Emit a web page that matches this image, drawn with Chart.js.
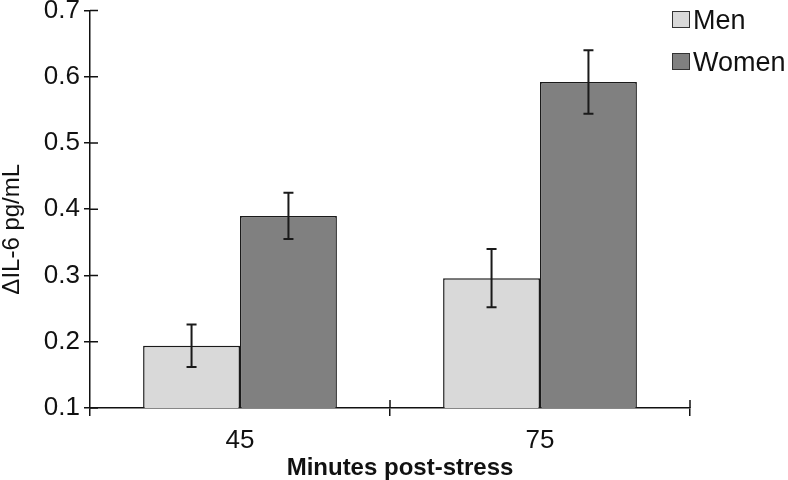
<!DOCTYPE html>
<html><head><meta charset="utf-8">
<script src="https://cdn.jsdelivr.net/npm/chart.js@4.4.1/dist/chart.umd.min.js"></script>
<style>
html,body{margin:0;padding:0;background:#fff;}
#wrap{position:relative;width:788px;height:480px;}
#legend{position:absolute;left:0;top:0;font-family:"Liberation Sans",Arial,sans-serif;font-size:27px;color:#111;}
.box{position:absolute;width:18px;height:17px;border:1px solid #333;box-sizing:border-box;}
.lbl{position:absolute;line-height:27px;white-space:nowrap;}
</style></head>
<body><div id="wrap"><canvas id="c" width="788" height="480"></canvas><div id="legend"></div></div>
<script>
const categories = ["45", "75"];
const seriesNames = ["Men", "Women"];
const menValues = [0.194, 0.296];
const womenValues = [0.390, 0.592];
const menErrors = [0.032, 0.044];
const womenErrors = [0.035, 0.048];
const seriesColors = ["#d9d9d9", "#808080"];
const yMin = 0.1, yMax = 0.7, yStep = 0.1;
const yTitle = "ΔIL-6 pg/mL";
const xTitle = "Minutes post-stress";

const FONT = '"Liberation Sans", Arial, sans-serif';
const INK = '#111';

const errorBars = {
  id: 'errorBars',
  afterDatasetsDraw(chart) {
    const ctx = chart.ctx, y = chart.scales.y;
    chart.data.datasets.forEach((ds, di) => {
      const meta = chart.getDatasetMeta(di);
      meta.data.forEach((bar, i) => {
        const v = ds.data[i], e = ds.errors[i];
        const yt = y.getPixelForValue(v + e), yb = y.getPixelForValue(v - e);
        ctx.save();
        ctx.strokeStyle = '#1a1a1a'; ctx.lineWidth = 2;
        ctx.beginPath();
        ctx.moveTo(bar.x, yt); ctx.lineTo(bar.x, yb);
        ctx.moveTo(bar.x - 5, yt); ctx.lineTo(bar.x + 5, yt);
        ctx.moveTo(bar.x - 5, yb); ctx.lineTo(bar.x + 5, yb);
        ctx.stroke();
        ctx.restore();
      });
    });
  }
};

const innerTicksAndTitles = {
  id: 'innerTicksAndTitles',
  afterDraw(chart) {
    const ctx = chart.ctx, x = chart.scales.x, y = chart.scales.y, ca = chart.chartArea;
    ctx.save();
    ctx.strokeStyle = INK; ctx.lineWidth = 1.5;
    ctx.beginPath();
    y.ticks.forEach(t => {
      const py = y.getPixelForValue(t.value);
      ctx.moveTo(y.right, py); ctx.lineTo(y.right + 8, py);
    });
    const n = categories.length;
    for (let i = 1; i <= n; i++) {
      const px = x.left + i * (x.width / n);
      ctx.moveTo(px, x.top - 8); ctx.lineTo(px, x.top);
    }
    ctx.stroke();
    // axis titles
    ctx.fillStyle = INK;
    ctx.textAlign = 'center'; ctx.textBaseline = 'middle';
    ctx.font = 'bold 24px ' + FONT;
    ctx.fillText(xTitle, (ca.left + ca.right) / 2 + 10, x.bottom - 12);
    ctx.translate(12, (ca.top + ca.bottom) / 2 + 20);
    ctx.rotate(-Math.PI / 2);
    ctx.font = '24px ' + FONT;
    ctx.fillText(yTitle, 0, 0);
    ctx.restore();
  }
};

const chart = new Chart(document.getElementById('c'), {
  type: 'bar',
  data: {
    labels: categories,
    datasets: [
      { label: seriesNames[0], data: menValues, errors: menErrors, backgroundColor: seriesColors[0],
        borderColor: '#1a1a1a', borderWidth: 1.5, borderSkipped: false,
        categoryPercentage: 0.646, barPercentage: 1 },
      { label: seriesNames[1], data: womenValues, errors: womenErrors, backgroundColor: seriesColors[1],
        borderColor: '#1a1a1a', borderWidth: 1.5, borderSkipped: false,
        categoryPercentage: 0.646, barPercentage: 1 }
    ]
  },
  options: {
    responsive: false,
    animation: false,
    devicePixelRatio: 1,
    layout: { padding: { top: 6, right: 98, left: 0, bottom: 0 } },
    plugins: { legend: { display: false }, tooltip: { enabled: false } },
    scales: {
      x: {
        grid: { offset: true, drawOnChartArea: false, drawTicks: true, tickLength: 8, color: INK, lineWidth: 1.5 },
        border: { color: INK, width: 1.5 },
        ticks: { font: { family: FONT, size: 26 }, color: INK, padding: 9 },
        afterFit(s) { s.height = 72; }
      },
      y: {
        min: yMin, max: yMax,
        grid: { drawOnChartArea: false, drawTicks: true, tickLength: 6, color: INK, lineWidth: 1.5 },
        border: { color: INK, width: 1.5 },
        ticks: { stepSize: yStep, font: { family: FONT, size: 26, lineHeight: 0.5 }, color: INK, padding: 4,
                 callback: v => Number(v).toFixed(1) },
        afterFit(s) { s.width = 90; }
      }
    }
  },
  plugins: [errorBars, innerTicksAndTitles]
});

// legend built from the dataset names/colours
const legend = document.getElementById('legend');
seriesNames.forEach((name, i) => {
  const top = 11 + i * 42;
  const box = document.createElement('div');
  box.className = 'box';
  box.style.left = '672px'; box.style.top = top + 'px';
  box.style.background = seriesColors[i];
  const lbl = document.createElement('div');
  lbl.className = 'lbl';
  lbl.style.left = '693px'; lbl.style.top = (top - 4) + 'px';
  lbl.textContent = name;
  legend.appendChild(box); legend.appendChild(lbl);
});
</script>
</body></html>
